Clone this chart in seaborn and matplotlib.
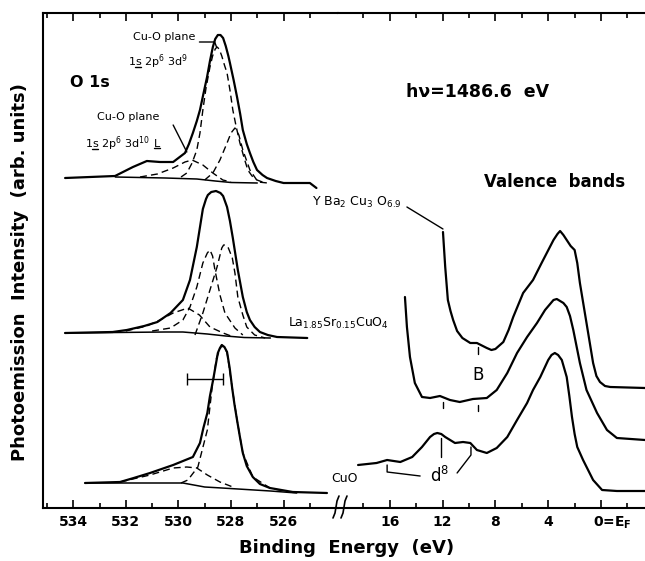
import pandas as pd
import seaborn as sns
import matplotlib.pyplot as plt
from matplotlib.lines import Line2D
from matplotlib.transforms import IdentityTransform, blended_transform_factory

# ---- O 1s core level data (binding energy in eV, intensity arb. units) ----
ybco_o1s_e = [534.31, 532.41, 531.73, 531.2, 530.7, 530.2, 529.75, 529.6, 529.45, 529.3,
              529.18, 529.05, 528.91, 528.8, 528.69, 528.6, 528.5, 528.4, 528.3, 528.2,
              528.1, 528.04, 527.9, 527.77, 527.65, 527.55, 527.4, 527.28, 527.15, 527.01,
              526.8, 526.63, 526.3, 526.0, 525.0, 524.75]
ybco_o1s_i = [330, 332, 341, 347, 346, 346, 355, 364, 375, 387,
              398, 414, 431, 447, 461, 469, 473, 473, 470, 462,
              452, 445, 428, 411, 394, 378, 364, 355, 346, 338,
              333, 330, 327, 325, 325, 320]
ybco_bg_e = [532.4, 530.5, 529.3, 528.6, 528.0, 527.0]
ybco_bg_i = [331, 330, 329, 327, 325.5, 325]
ybco_main_e = [529.9, 529.68, 529.48, 529.3, 529.18, 529.07, 528.95, 528.8, 528.7, 528.6,
               528.53, 528.45, 528.35, 528.25, 528.15, 528.04, 527.93, 527.8, 527.66, 527.5,
               527.36, 527.2, 527.01, 526.7]
ybco_main_i = [331, 335, 345, 358, 375, 398, 420, 441, 452, 459,
               461, 459, 452, 443, 435, 418, 398, 381, 365, 350,
               338, 332, 328, 325]
ybco_low_e = [529.0, 528.69, 528.42, 528.15, 528.0, 527.85, 527.7, 527.55, 527.28, 526.97, 526.6]
ybco_low_i = [328, 335, 348, 365, 375, 380, 373, 358, 338, 326, 325]
ybco_high_e = [531.46, 530.8, 530.2, 529.75, 529.48, 529.07, 528.69, 528.31, 528.0]
ybco_high_i = [331, 334, 340, 346, 348, 343, 335, 328, 326]

lsco_o1s_e = [534.31, 532.5, 531.96, 531.3, 530.8, 530.3, 529.83, 529.56, 529.3, 529.07,
              528.95, 528.88, 528.75, 528.57, 528.4, 528.3, 528.15, 528.04, 527.93, 527.74,
              527.55, 527.4, 527.28, 527.1, 526.9, 526.6, 526.25, 525.1]
lsco_o1s_i = [175, 176, 178, 182, 186, 195, 208, 228, 261, 299,
              309, 313, 316, 317, 315, 312, 301, 287, 270, 238,
              211, 196, 188, 181, 176, 173, 171, 170]
lsco_bg_e = [534.31, 530.5, 529.83, 528.9, 528.2, 527.5, 526.5]
lsco_bg_i = [175, 176, 176, 174, 172, 170.5, 170]
lsco_a_e = [531.0, 530.3, 529.83, 529.56, 529.3, 529.07, 528.9, 528.8, 528.7, 528.61,
            528.42, 528.23, 527.85, 527.55]
lsco_a_i = [177, 180, 188, 201, 221, 245, 255, 258, 252, 238,
            213, 195, 180, 173]
lsco_b_e = [529.37, 529.07, 528.8, 528.53, 528.35, 528.28, 528.2, 528.1, 527.95, 527.85,
            527.74, 527.55, 527.4, 527.1, 526.7]
lsco_b_i = [173, 195, 218, 241, 260, 263, 263, 260, 250, 235,
            211, 193, 181, 173, 170]
lsco_c_e = [532.0, 531.2, 530.7, 530.2, 529.64, 529.2, 528.8, 528.3, 527.9]
lsco_c_i = [177, 182, 188, 195, 200, 193, 181, 175, 171]

cuo_o1s_e = [533.55, 532.22, 531.7, 531.08, 530.2, 529.45, 529.18, 529.05, 528.9, 528.8,
             528.68, 528.58, 528.5, 528.42, 528.35, 528.25, 528.15, 528.05, 527.96, 527.87,
             527.77, 527.66, 527.55, 527.4, 527.17, 526.9, 526.52, 525.65, 524.35]
cuo_o1s_i = [25, 26, 30, 35, 43, 51, 65, 80, 95, 112,
             128, 143, 155, 160, 163, 161, 156, 140, 121, 104,
             88, 71, 55, 42, 31, 24, 20, 16, 15]
cuo_bg_e = [533.55, 529.83, 529.0, 528.35, 526.5, 525.5]
cuo_bg_i = [25, 25, 21, 20, 17, 15]
cuo_main_e = [529.9, 529.64, 529.26, 528.9, 528.72, 528.55, 528.35, 528.15, 527.96, 527.77,
              527.55, 527.17, 526.52, 526.0]
cuo_main_i = [25, 28, 41, 78, 120, 150, 163, 156, 121, 88,
              55, 31, 20, 17]
cuo_high_e = [532.22, 531.08, 530.2, 529.68, 529.3, 528.9, 528.42, 527.93]
cuo_high_i = [26, 33, 40, 41, 40, 33, 26, 21]

# ---- valence band data ----
ybco_vb_e = [11.97, 11.8, 11.6, 11.4, 11.2, 10.9, 10.5, 9.9, 9.4, 8.65,
             8.3, 8.0, 7.4, 7.0, 6.65, 5.9, 5.15, 4.5, 3.6, 3.3,
             3.1, 2.85, 2.6, 2.3, 2.0, 1.8, 1.6, 1.35, 1.1, 0.85,
             0.6, 0.35, 0.08, -0.3, -0.7, -3.33]
ybco_vb_i = [276, 241, 208, 197, 188, 177, 170, 165, 165, 160,
             158, 159, 166, 178, 191, 215, 228, 245, 268, 274,
             277, 273, 268, 262, 258, 245, 225, 205, 185, 165,
             145, 132, 126, 122, 121, 120]
lsco_vb_e = [14.85, 14.7, 14.47, 14.1, 13.56, 12.95, 12.2, 11.44, 10.7, 9.7,
             8.65, 7.9, 7.1, 6.36, 5.6, 4.85, 4.24, 3.6, 3.35, 3.1,
             2.85, 2.6, 2.35, 2.1, 1.6, 1.1, 0.3, -0.45, -1.2, -3.33]
lsco_vb_i = [211, 181, 151, 125, 111, 110, 112, 108, 106, 109,
             110, 118, 135, 155, 171, 185, 198, 208, 209, 207,
             205, 201, 192, 178, 145, 118, 95, 78, 70, 68]
cuo_vb_e = [18.4, 17.0, 16.2, 15.2, 14.3, 13.56, 12.95, 12.65, 12.4, 12.1,
            11.8, 11.06, 10.45, 9.9, 9.4, 8.65, 7.9, 7.1, 6.36, 5.6,
            5.15, 4.6, 4.0, 3.75, 3.5, 3.25, 2.97, 2.6, 2.4, 2.2,
            2.0, 1.8, 1.36, 0.6, -0.08, -1.2, -3.33]
cuo_vb_i = [43, 45, 48, 46, 51, 61, 71, 74, 75, 74,
            71, 65, 66, 65, 58, 55, 60, 71, 88, 105,
            118, 131, 148, 153, 155, 153, 148, 131, 112, 91,
            74, 61, 48, 28, 18, 17, 17]

core_ticks = [534, 532, 530, 528, 526]
core_minor = [535, 533, 531, 529, 527, 525]
vb_ticks = [16, 12, 8, 4]
vb_minor = [18, 14, 10, 6, 2, -2]

W, H = 645, 561

sns.set_style("ticks")
plt.rcParams['font.family'] = ['DejaVu Sans']
plt.rcParams['mathtext.fontset'] = 'dejavusans'
plt.rcParams['text.color'] = 'black'
plt.rcParams['axes.edgecolor'] = 'black'
plt.rcParams['xtick.color'] = 'black'
plt.rcParams['xtick.labelcolor'] = 'black'

fig = plt.figure(figsize=(W / 100, H / 100), dpi=100)
ax1 = fig.add_axes([43 / W, (H - 508) / H, 295 / W, 495 / H])
ax2 = fig.add_axes([338 / W, (H - 508) / H, 307 / W, 495 / H])

solid = dict(color='black', lw=1.6, sort=False, estimator=None)
thin = dict(color='black', lw=1.1, sort=False, estimator=None)
dash = dict(color='black', lw=1.0, sort=False, estimator=None, linestyle=(0, (5, 3)))

# O 1s panel
for e, i in [(ybco_o1s_e, ybco_o1s_i), (lsco_o1s_e, lsco_o1s_i), (cuo_o1s_e, cuo_o1s_i)]:
    sns.lineplot(x=e, y=i, ax=ax1, **solid)
for e, i in [(ybco_bg_e, ybco_bg_i), (lsco_bg_e, lsco_bg_i), (cuo_bg_e, cuo_bg_i)]:
    sns.lineplot(x=e, y=i, ax=ax1, **thin)
for e, i in [(ybco_main_e, ybco_main_i), (ybco_low_e, ybco_low_i), (ybco_high_e, ybco_high_i),
             (lsco_a_e, lsco_a_i), (lsco_b_e, lsco_b_i), (lsco_c_e, lsco_c_i),
             (cuo_main_e, cuo_main_i), (cuo_high_e, cuo_high_i)]:
    sns.lineplot(x=e, y=i, ax=ax1, **dash)

# resolution bar
ax1.errorbar([529.0], [129], xerr=[0.69], color='black', lw=1.0, capsize=4, capthick=1.0)

# valence band panel
for e, i in [(ybco_vb_e, ybco_vb_i), (lsco_vb_e, lsco_vb_i), (cuo_vb_e, cuo_vb_i)]:
    sns.lineplot(x=e, y=i, ax=ax2, **solid)

for ax in (ax1, ax2):
    ax.set_ylim(0, 495)
    ax.set_yticks([])
    ax.set_xlabel('')
    ax.set_ylabel('')
    ax.tick_params(which='both', direction='in', top=True, bottom=True, width=1.2,
                   labelsize=10, pad=5, color='black', labelcolor='black')
    ax.tick_params(which='major', length=6)
    ax.tick_params(which='minor', length=3.5)
    for s in ax.spines.values():
        s.set_linewidth(1.5)
        s.set_color('black')

ax1.set_xlim(535.15, 523.93)
ax1.set_xticks(core_ticks)
ax1.set_xticks(core_minor, minor=True)
ax1.spines['right'].set_visible(False)

ax2.set_xlim(19.92, -3.33)
ax2.set_xticks(vb_ticks + [0])
ax2.set_xticklabels([str(t) for t in vb_ticks] + [''])
ax2.set_xticks(vb_minor, minor=True)
ax2.spines['left'].set_visible(False)
ax2.spines['right'].set_visible(False)
for ax in (ax1, ax2):
    for lab in ax.get_xticklabels():
        lab.set_fontweight('bold')

# "0 = E_F" label
tr = blended_transform_factory(ax2.transData, fig.transFigure)
ax2.text(0.6, 1 - 523 / H, r"0=E$_\mathbf{F}$", transform=tr, ha='left', va='center',
         fontsize=10, fontweight='bold')

renderer = fig.canvas.get_renderer()


def ftext(px, py, s, **kw):
    kw.setdefault('ha', 'center')
    kw.setdefault('va', 'center')
    return fig.text(px / W, 1 - py / H, s, **kw)


def underline(t, prefix, char, dy=4):
    # draw a short bar under one character of a left-aligned text
    bb = t.get_window_extent(renderer)
    tmp = fig.text(0, 0, prefix, fontsize=t.get_fontsize())
    w0 = tmp.get_window_extent(renderer).width if prefix else 0
    tmp.set_text(char)
    w1 = tmp.get_window_extent(renderer).width
    tmp.remove()
    x0 = bb.x0 + w0
    y0 = bb.y0 + dy
    fig.add_artist(Line2D([x0, x0 + w1], [y0, y0], color='black', lw=1.0,
                          transform=IdentityTransform()))


# axis labels
ftext(20, 272, "Photoemission  Intensity  (arb. units)", rotation=90, fontsize=13,
      fontweight='bold')
ftext(347, 548, "Binding  Energy  (eV)", fontsize=13, fontweight='bold')

# annotations on O 1s panel
ftext(90, 82, "O 1s", fontsize=11.5, fontweight='bold')
ftext(164, 37, "Cu-O plane", fontsize=8)
t1 = ftext(128, 62, r"1s 2p$^6$ 3d$^9$", fontsize=8, ha='left')
underline(t1, "1", "s")
ftext(128, 117, "Cu-O plane", fontsize=8)
t2 = ftext(85, 144, r"1s 2p$^6$ 3d$^{10}$", fontsize=8, ha='left')
underline(t2, "1", "s")
t3 = ftext(t2.get_window_extent(renderer).x1 + 4, 144, "L", fontsize=8, ha='left')
underline(t3, "", "L", dy=1)
ax1.plot([529.2, 528.62, 528.55], [466, 466, 461], color='black', lw=1.0)
ax1.plot([530.2, 529.68], [383, 356], color='black', lw=1.0)

ftext(478, 92, "hν=1486.6  eV", fontsize=12.5, fontweight='bold')
ftext(555, 182, "Valence  bands", fontsize=12, fontweight='bold')

ftext(357, 202, r"Y Ba$_2$ Cu$_3$ O$_{6.9}$", fontsize=9)
ax2.plot([14.7, 11.97], [301, 279], color='black', lw=1.0, clip_on=False)
ftext(338, 323, r"La$_{1.85}$Sr$_{0.15}$CuO$_4$", fontsize=9)
ftext(478, 375, "B", fontsize=12)
ftext(345, 478, "CuO", fontsize=9)
ftext(440, 476, r"d$^8$", fontsize=12)

# feature markers on valence bands
ax2.plot([9.32, 9.32], [161, 154], color='black', lw=1.0)
ax2.plot([12.0, 12.0], [106, 100], color='black', lw=1.0)
ax2.plot([9.32, 9.32], [103, 97], color='black', lw=1.0)
ax2.plot([12.1, 12.1], [70, 51], color='black', lw=1.0)
ax2.plot([9.85, 9.85, 10.9], [61, 53, 35], color='black', lw=1.0)
ax2.plot([16.2, 16.2, 13.7], [43, 36, 32], color='black', lw=1.0)

# axis break marks
for bx in (336, 344):
    xs = [bx + 3, bx + 1, bx, bx - 1, bx - 3]
    ys = [H - 496, H - 501, H - 507, H - 513, H - 518]
    fig.add_artist(Line2D(xs, ys, color='black', lw=1.2, transform=IdentityTransform()))

plt.savefig("out.png", dpi=100)
